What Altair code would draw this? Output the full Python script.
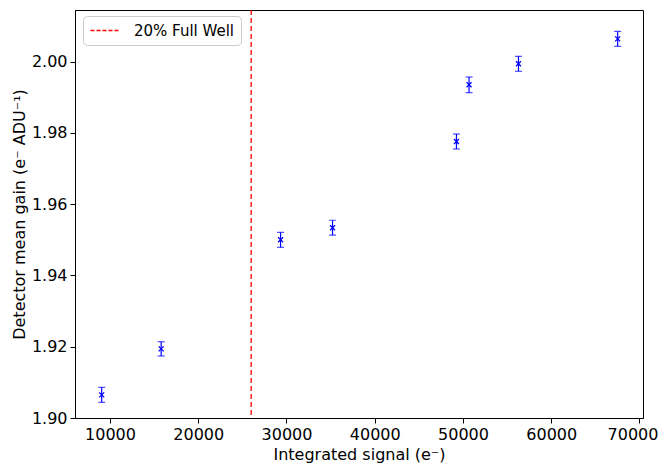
import altair as alt
import pandas as pd

signal = [9060, 15800, 29330, 35220, 49260, 50690, 56290, 67530]
gain = [1.9065, 1.9194, 1.9500, 1.9534, 1.9776, 1.9935, 1.9994, 2.0064]
gain_err = [0.0021, 0.0020, 0.0021, 0.0021, 0.0021, 0.0022, 0.0021, 0.0021]

full_well_x = [26000]
full_well_label = ["20% Full Well"]

x_ticks = [10000, 20000, 30000, 40000, 50000, 60000, 70000]
y_ticks = [1.90, 1.92, 1.94, 1.96, 1.98, 2.00]

df = pd.DataFrame({
    "signal": signal,
    "gain": gain,
    "lo": [g - e for g, e in zip(gain, gain_err)],
    "hi": [g + e for g, e in zip(gain, gain_err)],
})
fw = pd.DataFrame({"x": full_well_x, "label": full_well_label})

FONT = "DejaVu Sans"
xscale = alt.Scale(domain=[6036, 70400], nice=False, zero=False)
yscale = alt.Scale(domain=[1.90, 2.0145], nice=False, zero=False)

x_axis = alt.Axis(
    values=x_ticks, format="d", title="Integrated signal (e⁻)", grid=False,
    labelOffset={"condition": {"test": "datum.value == 70000", "value": -7}, "value": 0},
)
y_axis = alt.Axis(values=y_ticks, format=".2f", title="Detector mean gain (e⁻ ADU⁻¹)", grid=False)

base = alt.Chart(df)

errbars = base.mark_errorbar(ticks=alt.MarkConfig(size=7), color="blue", thickness=1.2).encode(
    x=alt.X("signal:Q", scale=xscale, axis=x_axis),
    y=alt.Y("lo:Q", scale=yscale, axis=y_axis),
    y2="hi:Q",
)

points = base.mark_point(
    shape="M-1,-1L1,1M-1,1L1,-1", filled=False, color="blue", size=25, strokeWidth=1.3, opacity=1
).encode(
    x=alt.X("signal:Q", scale=xscale),
    y=alt.Y("gain:Q", scale=yscale),
)

rule = alt.Chart(fw).mark_rule(strokeDash=[5, 3], strokeWidth=1.3).encode(
    x=alt.X("x:Q", scale=xscale),
    color=alt.Color(
        "label:N",
        scale=alt.Scale(domain=full_well_label, range=["red"]),
        legend=alt.Legend(
            title=None,
            orient="none",
            legendX=8,
            legendY=6,
            symbolType="M-2,0H2",
            symbolDash=[4, 2],
            symbolStrokeWidth=1.3,
            symbolFillColor="transparent",
            symbolSize=225,
            symbolOffset=8,
            labelFont=FONT,
            labelFontSize=15,
            labelColor="black",
            fillColor="white",
            strokeColor="#cccccc",
            cornerRadius=4,
            padding=6,
            labelOffset=20,
        ),
    ),
)

chart = alt.layer(rule, errbars, points).properties(
    width=568,
    height=408,
    autosize=alt.AutoSizeParams(type="none"),
    padding={"left": 67, "top": 2, "right": 15, "bottom": 45},
).configure_view(
    stroke="black", strokeWidth=1
).configure_axis(
    labelFont=FONT,
    titleFont=FONT,
    labelFontSize=16,
    titleFontSize=16,
    titleFontWeight="normal",
    labelColor="black",
    titleColor="black",
    domainColor="black",
    tickColor="black",
    tickSize=5,
    labelPadding=3,
    labelFlush=False,
)

chart.save("out.html", embed_options={"renderer": "svg", "actions": False})
